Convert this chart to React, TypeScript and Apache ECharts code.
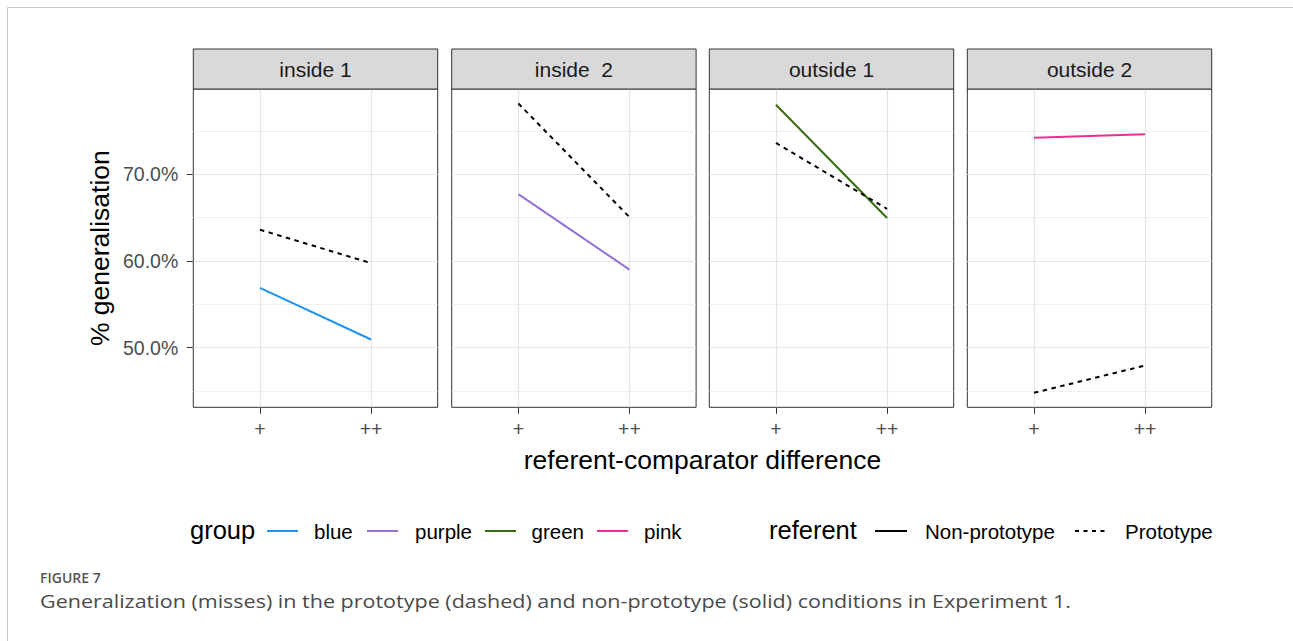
import React, { useEffect, useRef } from "react";
import * as echarts from "echarts";

// ---------- data ----------
const panelNames = ["inside 1", "inside  2", "outside 1", "outside 2"];
const xCategories = ["+", "++"];
const groupNames = ["blue", "purple", "green", "pink"];
const groupColors = ["#1f93ee", "#9470d2", "#3b6a12", "#e8318f"];
// Non-prototype (solid) values per panel, at "+" and "++"
const nonPrototype = [
  [56.9, 50.95],
  [67.7, 59.0],
  [78.0, 64.95],
  [74.2, 74.6],
];
// Prototype (dashed) values per panel
const prototype = [
  [63.6, 59.75],
  [78.15, 65.05],
  [73.6, 66.0],
  [44.8, 47.95],
];
const yMajorTicks = [50, 60, 70];
const yMinorTicks = [45, 55, 65, 75];
const referentNames = ["Non-prototype", "Prototype"];

// ---------- layout ----------
const FONT = "'Liberation Sans', Arial, Helvetica, sans-serif";
const CAPTION_FONT = "'Open Sans', 'Noto Sans', sans-serif";
const panelLeft = [193.3, 451.7, 709.3, 967.3];
const panelWidth = 244.4;
const panelTop = 89;
const panelHeight = 318.3;
const stripTop = 49;

export default function App() {
  const ref = useRef<HTMLDivElement>(null);

  useEffect(() => {
    document.body.style.margin = "0";
    const chart = echarts.init(ref.current!, null, { renderer: "svg" });

    const all = [...nonPrototype.flat(), ...prototype.flat()];
    const dMin = Math.min(...all);
    const dMax = Math.max(...all);
    const pad = (dMax - dMin) * 0.05;
    const yMin = dMin - pad;
    const yMax = dMax + pad;
    const xPos = xCategories.map((_, i) => i + 1);

    const grids: any[] = [];
    const xAxes: any[] = [];
    const yAxes: any[] = [];
    const series: any[] = [];
    const graphics: any[] = [];

    panelNames.forEach((name, i) => {
      grids.push({
        left: panelLeft[i],
        top: panelTop,
        width: panelWidth,
        height: panelHeight,
        show: true,
        borderColor: "#333333",
        borderWidth: 1,
        backgroundColor: "#ffffff",
      });
      xAxes.push({
        type: "value",
        gridIndex: i,
        min: 0.4,
        max: 2.6,
        axisLine: { show: false },
        splitLine: { show: false },
        axisTick: {
          show: true,
          customValues: xPos,
          length: 6.5,
          lineStyle: { color: "#333333", width: 1 },
        },
        axisLabel: {
          show: true,
          customValues: xPos,
          formatter: (v: number) => xCategories[Math.round(v) - 1] ?? "",
          fontFamily: FONT,
          fontSize: 19.5,
          color: "#4d4d4d",
          margin: 11.5,
        },
      });
      yAxes.push({
        type: "value",
        gridIndex: i,
        min: yMin,
        max: yMax,
        axisLine: { show: false },
        splitLine: { show: false },
        axisTick: {
          show: i === 0,
          customValues: yMajorTicks,
          length: 6.5,
          lineStyle: { color: "#333333", width: 1 },
        },
        axisLabel: {
          show: i === 0,
          customValues: yMajorTicks,
          formatter: (v: number) => v.toFixed(1) + "%",
          fontFamily: FONT,
          fontSize: 19.5,
          color: "#4d4d4d",
          margin: 15,
        },
      });
      // gridlines
      series.push({
        type: "line",
        name: "grid" + i,
        xAxisIndex: i,
        yAxisIndex: i,
        data: [],
        silent: true,
        z: 1,
        markLine: {
          silent: true,
          z: 1,
          symbol: ["none", "none"],
          label: { show: false },
          emphasis: { disabled: true },
          data: [
            ...yMinorTicks.map((v) => ({ yAxis: v, lineStyle: { color: "#ebebeb", width: 0.7, type: "solid" } })),
            ...yMajorTicks.map((v) => ({ yAxis: v, lineStyle: { color: "#e4e4e4", width: 1.2, type: "solid" } })),
            ...xPos.map((v) => ({ xAxis: v, lineStyle: { color: "#e4e4e4", width: 1.2, type: "solid" } })),
          ],
        },
      });
      series.push({
        type: "line",
        name: groupNames[i],
        xAxisIndex: i,
        yAxisIndex: i,
        data: xPos.map((x, k) => [x, nonPrototype[i][k]]),
        showSymbol: false,
        symbol: "none",
        z: 3,
        lineStyle: { color: groupColors[i], width: 2, type: "solid", cap: "butt" },
      });
      series.push({
        type: "line",
        name: referentNames[1],
        xAxisIndex: i,
        yAxisIndex: i,
        data: xPos.map((x, k) => [x, prototype[i][k]]),
        showSymbol: false,
        symbol: "none",
        z: 4,
        lineStyle: { color: "#000000", width: 2, type: [4.5, 4.5], cap: "butt" },
      });

      // facet strip
      graphics.push({
        type: "rect",
        shape: { x: panelLeft[i], y: stripTop, width: panelWidth, height: panelTop - stripTop },
        style: { fill: "#d9d9d9", stroke: "#333333", lineWidth: 1 },
        z: 10,
      });
      graphics.push({
        type: "text",
        x: panelLeft[i] + panelWidth / 2,
        y: stripTop + (panelTop - stripTop) / 2 + 0.8,
        style: {
          text: name,
          fontFamily: FONT,
          fontSize: 21,
          fill: "#1a1a1a",
          align: "center",
          verticalAlign: "middle",
        },
        z: 11,
      });
    });

    // axis titles
    graphics.push({
      type: "text",
      x: (panelLeft[0] + panelLeft[3] + panelWidth) / 2,
      y: 459.5,
      style: {
        text: "referent-comparator difference",
        fontFamily: FONT,
        fontSize: 26.5,
        fill: "#000000",
        align: "center",
        verticalAlign: "middle",
      },
    });
    graphics.push({
      type: "text",
      x: 99.5,
      y: panelTop + panelHeight / 2,
      rotation: Math.PI / 2,
      style: {
        text: "% generalisation",
        fontFamily: FONT,
        fontSize: 26.5,
        fill: "#000000",
        align: "center",
        verticalAlign: "middle",
      },
    });

    // legend
    const legY = 531;
    const addText = (text: string, x: number, size: number, y = legY) =>
      graphics.push({
        type: "text",
        x,
        y,
        style: { text, fontFamily: FONT, fontSize: size, fill: "#000000", align: "left", verticalAlign: "middle" },
      });
    const addLine = (x1: number, x2: number, color: string, dash?: number[]) =>
      graphics.push({
        type: "line",
        shape: { x1, y1: legY, x2, y2: legY },
        style: { stroke: color, lineWidth: 2, lineDash: dash ?? null },
      });
    addText("group", 190, 25.5, legY - 1.5);
    const gLineX = [267, 367, 485, 597];
    const gTextX = [314, 415, 531.5, 644];
    groupNames.forEach((g, i) => {
      addLine(gLineX[i], gLineX[i] + 31, groupColors[i]);
      addText(g, gTextX[i], 20.5);
    });
    addText("referent", 769, 25.5, legY - 1.5);
    addLine(875, 907, "#000000");
    addText(referentNames[0], 925, 20.5);
    addLine(1075, 1107, "#000000", [4, 4.5]);
    addText(referentNames[1], 1125, 20.5);

    // caption
    graphics.push({
      type: "text",
      x: 40,
      y: 577,
      style: {
        text: "FIGURE 7",
        fontFamily: CAPTION_FONT,
        fontSize: 14,
        fontWeight: 600,
        fill: "#555555",
        align: "left",
        verticalAlign: "middle",
      },
    });
    graphics.push({
      type: "text",
      x: 40,
      y: 601,
      scaleX: 1.195,
      style: {
        text: "Generalization (misses) in the prototype (dashed) and non-prototype (solid) conditions in Experiment 1.",
        fontFamily: CAPTION_FONT,
        fontSize: 18,
        fill: "#4a4a4a",
        align: "left",
        verticalAlign: "middle",
      },
    });
    // outer frame
    graphics.push({
      type: "rect",
      shape: { x: 7.5, y: 7.5, width: 1400, height: 800 },
      style: { fill: "none", stroke: "#c8c8c8", lineWidth: 1 },
      z: -1,
    });

    chart.setOption({
      animation: false,
      backgroundColor: "#ffffff",
      grid: grids,
      xAxis: xAxes,
      yAxis: yAxes,
      series,
      graphic: { elements: graphics },
    });

    return () => chart.dispose();
  }, []);

  return (
    <div
      ref={ref}
      style={{ position: "absolute", left: 0, top: 0, width: 1293, height: 641 }}
    />
  );
}
